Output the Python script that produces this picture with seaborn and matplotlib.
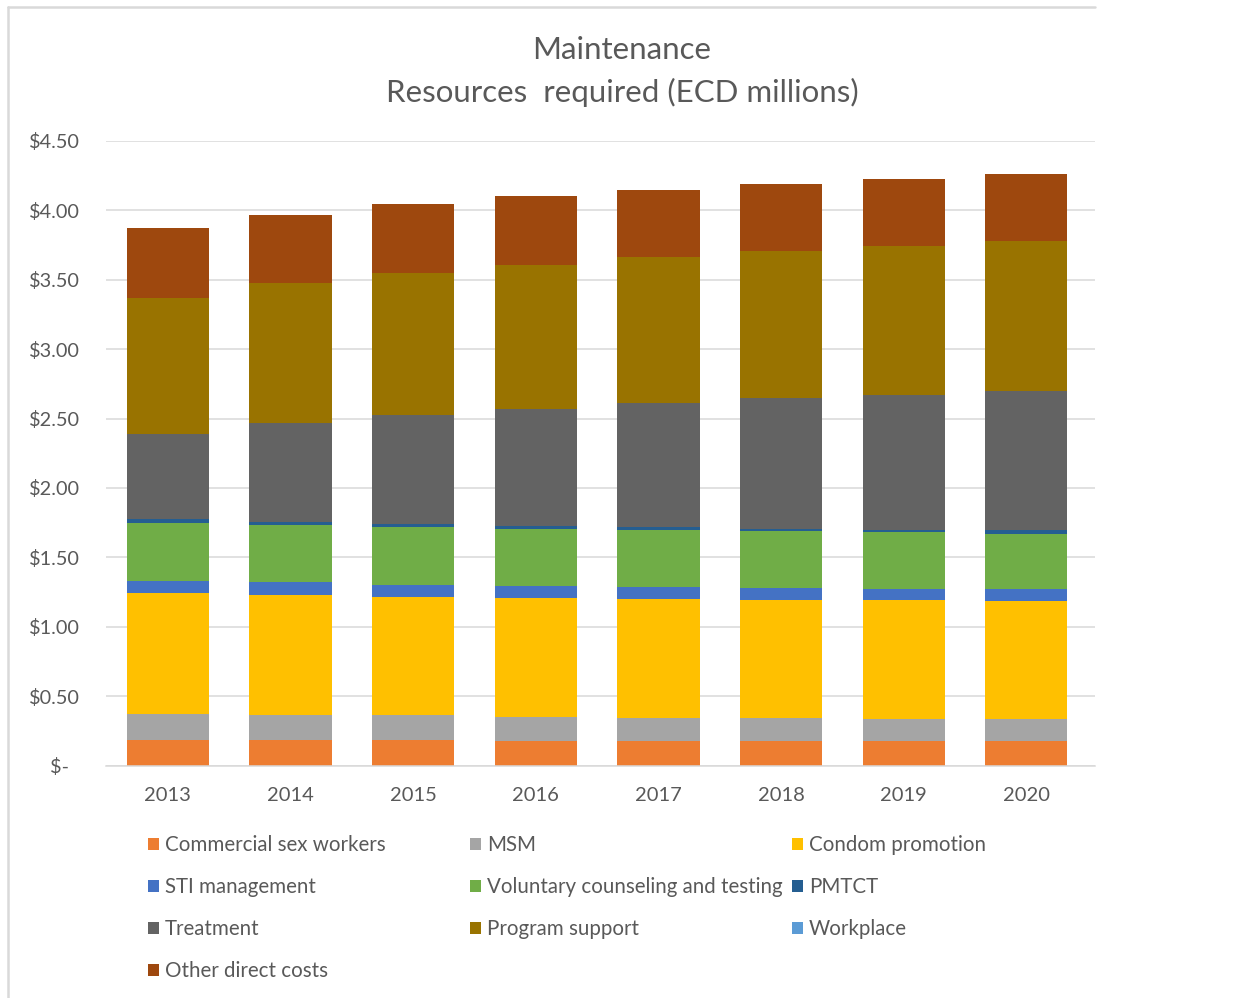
import numpy as np
import pandas as pd
import matplotlib
matplotlib.use("Agg")
import matplotlib.pyplot as plt
from matplotlib.patches import Patch
from matplotlib.lines import Line2D
import seaborn as sns

years = ["2013", "2014", "2015", "2016", "2017", "2018", "2019", "2020"]

csw       = [0.184, 0.184, 0.184, 0.174, 0.177, 0.177, 0.177, 0.177]
msm       = [0.189, 0.178, 0.178, 0.178, 0.168, 0.168, 0.158, 0.158]
condom    = [0.871, 0.865, 0.855, 0.858, 0.855, 0.848, 0.858, 0.849]
sti       = [0.086, 0.094, 0.087, 0.086, 0.087, 0.087, 0.077, 0.086]
vct       = [0.421, 0.411, 0.418, 0.411, 0.413, 0.411, 0.411, 0.401]
pmtct     = [0.026, 0.026, 0.019, 0.019, 0.017, 0.016, 0.019, 0.029]
treatment = [0.615, 0.711, 0.788, 0.845, 0.897, 0.943, 0.973, 1.000]
program   = [0.979, 1.010, 1.020, 1.037, 1.047, 1.054, 1.073, 1.076]
workplace = [0.0, 0.0, 0.0, 0.0, 0.0, 0.0, 0.0, 0.0]
other     = [0.504, 0.490, 0.499, 0.497, 0.488, 0.489, 0.480, 0.484]

series_names = ["Commercial sex workers", "MSM", "Condom promotion", "STI management",
                "Voluntary counseling and testing", "PMTCT", "Treatment",
                "Program support", "Workplace", "Other direct costs"]
series_values = [csw, msm, condom, sti, vct, pmtct, treatment, program, workplace, other]
colors = ["#ED7D31", "#A5A5A5", "#FFC000", "#4472C4", "#70AD47", "#255E91",
          "#636363", "#997300", "#5B9BD5", "#9E480E"]

yticks = [0, 0.5, 1.0, 1.5, 2.0, 2.5, 3.0, 3.5, 4.0, 4.5]
ytick_labels = ["$-  ", "$0.50", "$1.00", "$1.50", "$2.00", "$2.50", "$3.00",
                "$3.50", "$4.00", "$4.50"]

sns.set_theme(style="white")
plt.rcParams["font.family"] = ["Lato", "DejaVu Sans"]
TXT = "#595959"

W, H = 1236, 998
fig = plt.figure(figsize=(W / 100, H / 100), dpi=100)
fig.patch.set_facecolor("white")
ax = fig.add_axes([106 / W, 1 - 765.5 / H, (1095 - 106) / W, (765.5 - 141) / H])

bottom = np.zeros(len(years))
for name, vals, col in zip(series_names, series_values, colors):
    df = pd.DataFrame({"year": years, "value": vals})
    sns.barplot(data=df, x="year", y="value", order=years, color=col,
                bottom=bottom.copy(), width=0.67, linewidth=0, saturation=1,
                errorbar=None, ax=ax)
    bottom = bottom + np.array(vals)

ax.set_xlim(-0.505, 7.56)
ax.set_ylim(0, 4.5)
ax.set_yticks(yticks)
ax.set_yticklabels(ytick_labels)
ax.set_xlabel("")
ax.set_ylabel("")
ax.grid(axis="y", color="#D9D9D9", linewidth=1.1)
ax.grid(axis="x", visible=False)
ax.set_axisbelow(True)
for s in ["top", "right", "left"]:
    ax.spines[s].set_visible(False)
ax.spines["bottom"].set_color("#D9D9D9")
ax.spines["bottom"].set_linewidth(1.1)
ax.tick_params(axis="y", length=0, pad=19, labelsize=14.3, labelcolor=TXT)
ax.tick_params(axis="x", length=0, pad=15.5, labelsize=14.5, labelcolor=TXT)

fig.text(622 / W, 1 - 50 / H, "Maintenance", ha="center", va="center",
         fontsize=22.5, color=TXT)
fig.text(622 / W, 1 - 92 / H, "Resources  required (ECD millions)", ha="center",
         va="center", fontsize=22.5, color=TXT)

# chart border
fig.add_artist(Line2D([8 / W, 1095 / W], [1 - 7 / H, 1 - 7 / H], color="#D9D9D9",
                      linewidth=1.8, transform=fig.transFigure))
fig.add_artist(Line2D([8 / W, 8 / W], [1 - 7 / H, 0], color="#D9D9D9",
                      linewidth=1.8, transform=fig.transFigure))

handles = [Patch(facecolor=c, edgecolor="none") for c in colors]
cols_idx = [[0, 3, 6, 9], [1, 4, 7], [2, 5, 8]]
col_x = [148, 470, 792]
for idx, x in zip(cols_idx, col_x):
    leg = fig.legend([handles[i] for i in idx], [series_names[i] for i in idx],
                     loc="upper left", bbox_to_anchor=(x / W, 1 - 835 / H),
                     ncol=1, frameon=False, fontsize=14.8, borderpad=0,
                     borderaxespad=0, handlelength=0.52, handleheight=0.52,
                     handletextpad=0.3, labelspacing=1.07)
    for t in leg.get_texts():
        t.set_color(TXT)

fig.savefig("out.png", dpi=100, facecolor="white")
